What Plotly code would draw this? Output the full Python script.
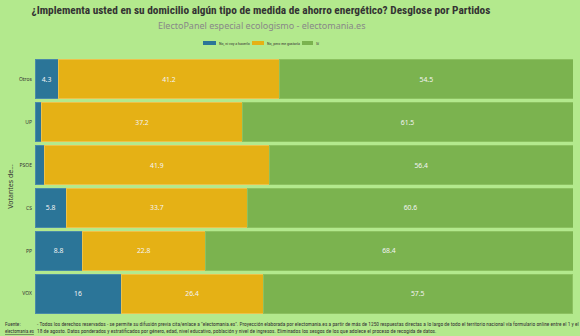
import plotly.graph_objects as go

partidos = ["Otros", "UP", "PSOE", "CS", "PP", "VOX"]
no_ni_voy = [4.3, 1.3, 1.7, 5.8, 8.8, 16]
no_pero = [41.2, 37.2, 41.9, 33.7, 22.8, 26.4]
si = [54.5, 61.5, 56.4, 60.6, 68.4, 57.5]
nombres = ["No, ni voy a hacerlo", "No, pero me gustaría", "Sí"]

colores = ["#2b7598", "#e5b115", "#7bb34f"]
lineas = ["#4a8aa8", "#eec24a", "#8cc160"]

BG = "#b3e98d"
NARROW = "Liberation Sans Narrow, Roboto Condensed, Roboto"
fig = go.Figure()
for name, vals, col, lc in zip(nombres, [no_ni_voy, no_pero, si], colores, lineas):
    fig.add_trace(go.Bar(
        y=partidos, x=vals, name=name, orientation="h",
        marker=dict(color=col, line=dict(color=lc, width=1)),
        text=[(f"{v:g}" if v >= 3 else "") for v in vals],
        textposition="inside", insidetextanchor="middle",
        textfont=dict(color="#f4f4f4", size=6.8, family="Noto Sans"),
        hoverinfo="skip", showlegend=False,
    ))

PW = 538.0
PH = 257.0
CX = (261 - 35) / PW
fig.update_layout(
    width=580, height=336,
    barmode="stack", bargap=0.09,
    paper_bgcolor=BG, plot_bgcolor=BG,
    margin=dict(l=35, r=7, t=58, b=21),
    font=dict(family="Noto Sans", color="#333333"),
    title=dict(text="<b>¿Implementa usted en su domicilio algún tipo de medida de ahorro energético? Desglose por Partidos</b>",
               x=261 / 580, xanchor="center", y=1 - 10 / 336, yanchor="middle",
               font=dict(size=11.3, color="#333333", family=NARROW)),
    xaxis=dict(range=[0, 100], showgrid=False, showticklabels=False, zeroline=False, fixedrange=True),
    yaxis=dict(autorange="reversed", showgrid=False, zeroline=False, automargin=False,
               tickfont=dict(size=5, color="#333333"), ticks="", ticklabelstandoff=2,
               title=dict(text="Votantes de...", font=dict(size=7, color="#333333"), standoff=4)),
)

fig.add_annotation(text="ElectoPanel especial ecologismo - electomania.es", xref="paper", yref="paper",
                   x=CX, y=1 + (58 - 25) / PH, xanchor="center", yanchor="middle", showarrow=False,
                   font=dict(size=9, color="#888888"))

# legend (custom, compact)
leg = [(203, 216, 217), (252, 264, 265), (302, 313, 314)]
for (x0, x1, xt), name, col in zip(leg, nombres, colores):
    fig.add_shape(type="rect", xref="paper", yref="paper",
                  x0=(x0 - 35) / PW, x1=(x1 - 35) / PW,
                  y0=1 + (58 - 45) / PH, y1=1 + (58 - 41) / PH,
                  fillcolor=col, line=dict(width=0))
    fig.add_annotation(text=name, xref="paper", yref="paper", x=(xt - 35) / PW, y=1 + (58 - 43) / PH,
                       xanchor="left", yanchor="middle", showarrow=False,
                       font=dict(size=4.0, color="#333333", family=NARROW))

FX = -(35 - 3) / PW
FS = 5.4
fig.add_annotation(text="Fuente:", xref="paper", yref="paper", x=FX, y=(315 - 324) / PH,
                   xanchor="left", yanchor="middle", showarrow=False, font=dict(size=FS, color="#333333", family=NARROW))
fig.add_annotation(text="<u>electomania.es</u>", xref="paper", yref="paper", x=FX, y=(315 - 331) / PH,
                   xanchor="left", yanchor="middle", showarrow=False, font=dict(size=4.8, color="#333333", family=NARROW))
fig.add_annotation(text="- Todos los derechos reservados - se permite su difusión previa cita/enlace a \"electomania.es\". Proyección elaborada por electomania.es a partir de más de 1250 respuestas directas a lo largo de todo el territorio nacional vía formulario online entre el 1 y el",
                   xref="paper", yref="paper", x=0, y=(315 - 324) / PH,
                   xanchor="left", yanchor="middle", showarrow=False, font=dict(size=FS, color="#333333", family=NARROW))
fig.add_annotation(text="18 de agosto. Datos ponderados y estratificados por género, edad, nivel educativo, población y nivel de ingresos. Eliminados los sesgos de los que adolece el proceso de recogida de datos.",
                   xref="paper", yref="paper", x=0, y=(315 - 331) / PH,
                   xanchor="left", yanchor="middle", showarrow=False, font=dict(size=FS, color="#333333", family=NARROW))

fig.write_html("out.html")
